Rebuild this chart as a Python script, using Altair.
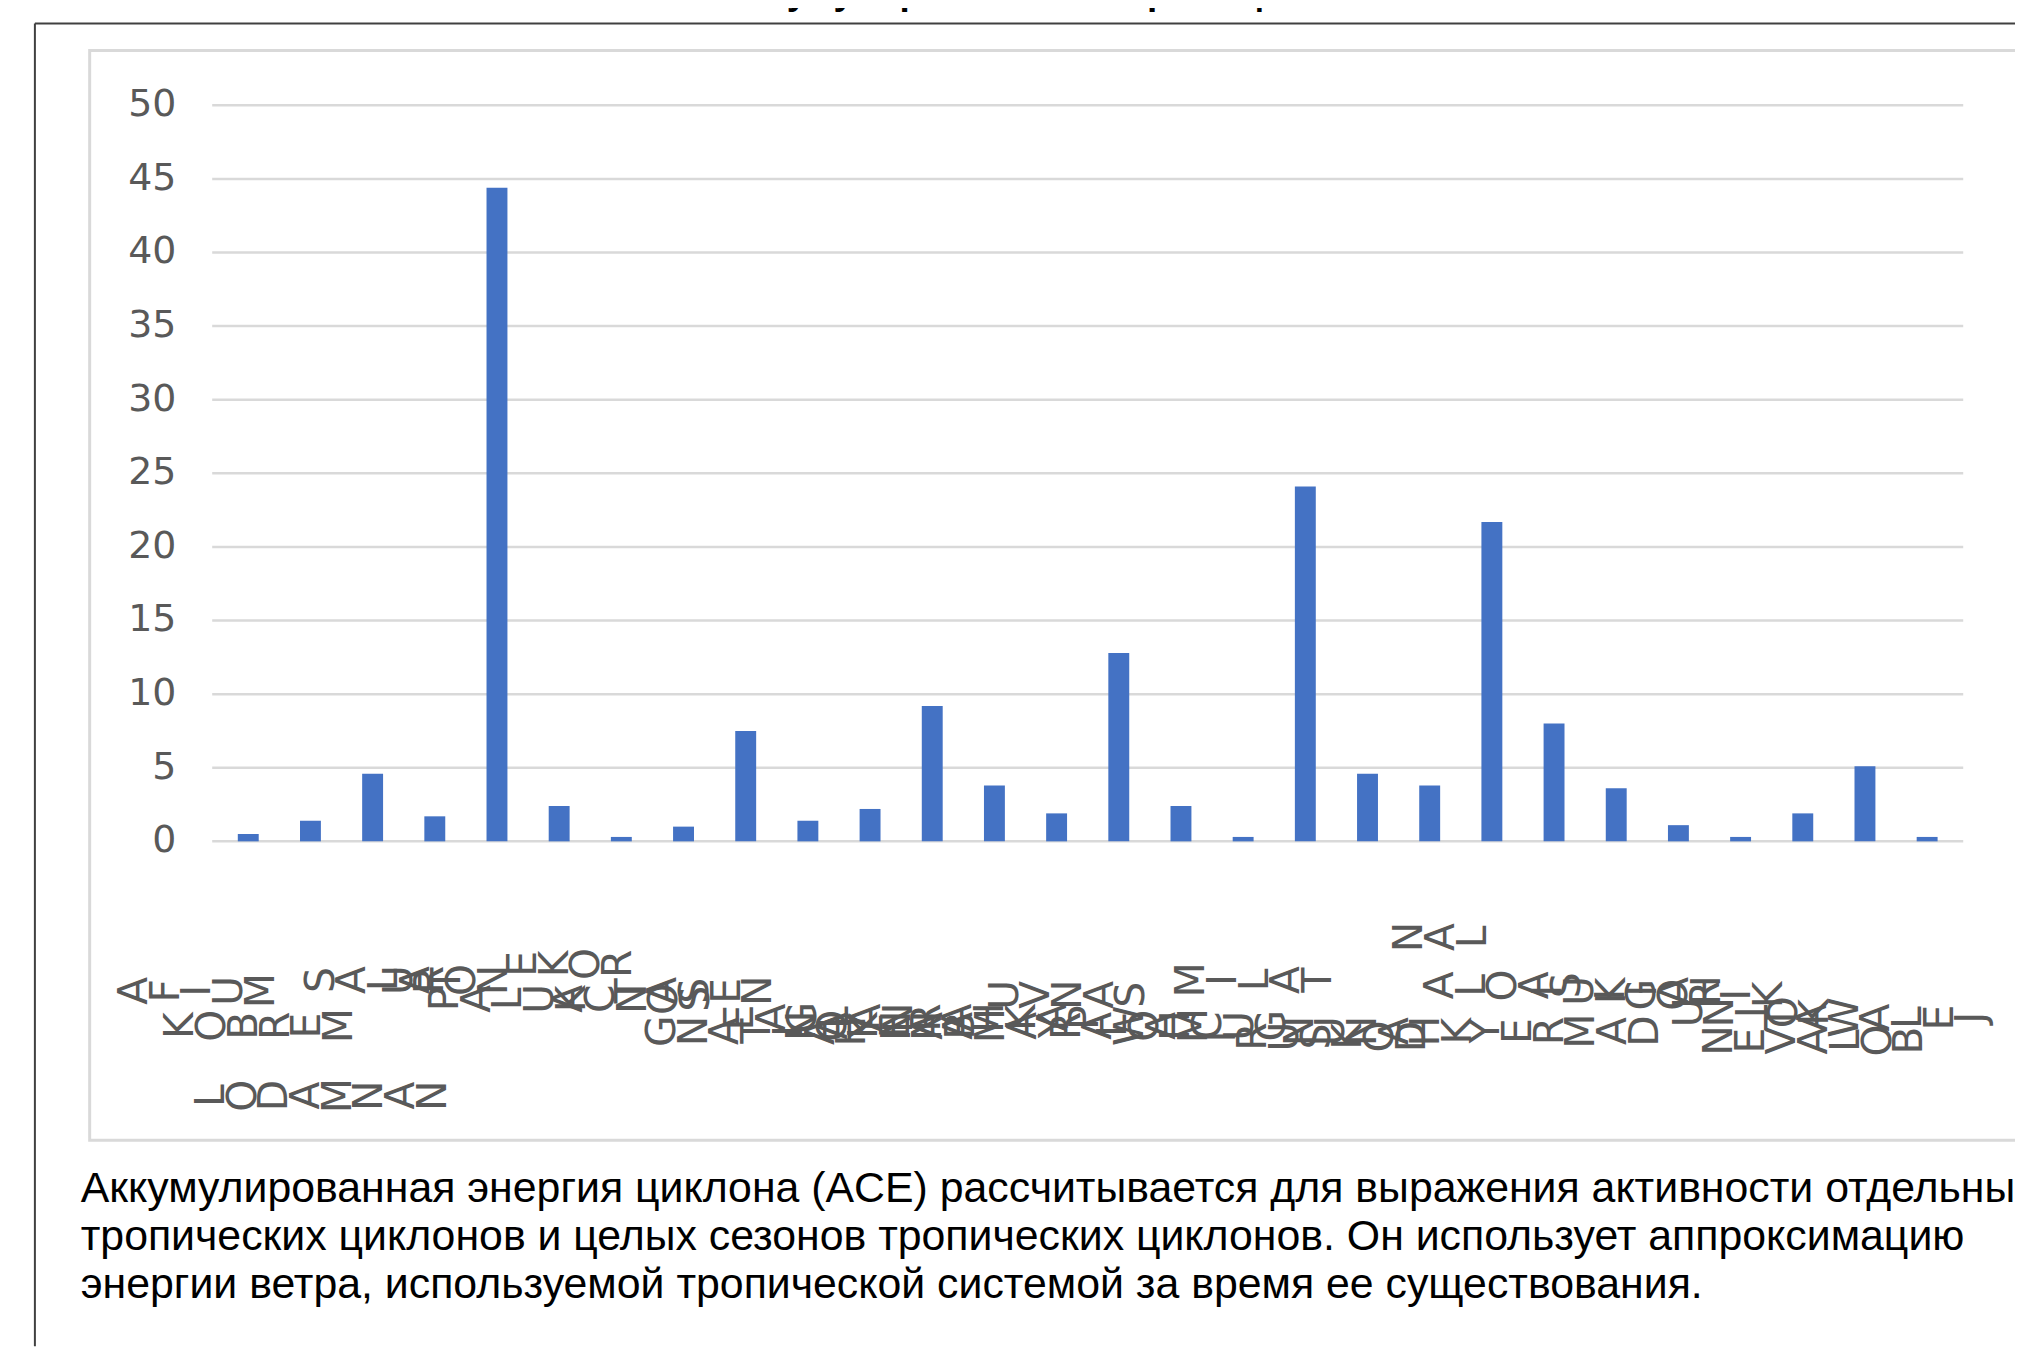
import altair as alt
import pandas as pd

# ---------------- data ----------------
storm_names = [
    "MUIFA", "MERBOK", "NANMADOL", "TALAS", "NORU", "KULAP", "ROKE",
    "SONCA", "NESAT", "HAITANG", "NALGAE", "BANYAN", "YAMANEKO", "PAKHAR",
    "SANVU", "MAWAR", "GUCHOL", "TALIM", "DOKSURI", "KHANUN", "LAN",
    "SAOLA", "DAMREY", "HAIKUI", "KIROGI", "KOINU", "BOLAVEN", "JELAWAT",
]
ace_values = [
    0.5, 1.4, 4.6, 1.7, 44.4, 2.4, 0.3, 1.0, 7.5, 1.4, 2.2, 9.2, 3.8, 1.9,
    12.8, 2.4, 0.3, 24.1, 4.6, 3.8, 21.7, 8.0, 3.6, 1.1, 0.3, 1.9, 5.1, 0.3,
]
y_ticks = [0, 5, 10, 15, 20, 25, 30, 35, 40, 45, 50]
title_text = "Аккумулированная энергия циклонов"
caption_lines = [
    "Аккумулированная энергия циклона (ACE) рассчитывается для выражения активности отдельных",
    "тропических циклонов и целых сезонов тропических циклонов. Он использует аппроксимацию",
    "энергии ветра, используемой тропической системой за время ее существования.",
]

# ---------------- layout (label stagger depth, in label lines) ----------------
label_depth = [2, 3.3, 5.9, 1.6, 1.6, 2.3, 1, 2.3, 2, 3.5, 3, 3.3, 3.3, 3,
               2.15, 3.3, 3.3, 1.6, 3.7, 3.5, 0, 1.8, 3.5, 2, 2.15, 2.8, 3.85, 3]

W, H = 2015, 1341
GRID = "#d9d9d9"
TXT = "#595959"

bars_df = pd.DataFrame({"i": list(range(len(ace_values))), "ace": ace_values, "name": storm_names})
ticks_df = pd.DataFrame({"v": y_ticks, "lab": [str(t) for t in y_ticks]})

rows = []
for i, nm in enumerate(storm_names):
    rev = nm[::-1]
    n = len(rev)
    for j, ch in enumerate(rev):
        rows.append({"i": i, "k": j - (n - 1) / 2, "ch": ch, "depth": label_depth[i]})
chars_df = pd.DataFrame(rows)
cap_df = pd.DataFrame({"line": list(range(len(caption_lines))), "txt": caption_lines})
one = pd.DataFrame({"z": [0]})

xscale = alt.Scale(domain=[-0.5, len(ace_values) - 0.5], range=[205, 1963], nice=False, zero=False)
yscale = alt.Scale(domain=[0, 50], range=[834, 95], nice=False, zero=False)

outer_left = alt.Chart(one).mark_rule(color="#404040", strokeWidth=2).encode(
    x=alt.value(27), y=alt.value(13), y2=alt.value(H))
outer_top = alt.Chart(one).mark_rule(color="#404040", strokeWidth=2).encode(
    x=alt.value(27), x2=alt.value(W), y=alt.value(13))
inner_box = alt.Chart(one).mark_rect(filled=False, stroke=GRID, strokeWidth=3).encode(
    x=alt.value(82), x2=alt.value(W + 20), y=alt.value(40), y2=alt.value(1134))

title = alt.Chart(one).mark_text(
    text=title_text, font="Liberation Sans", fontSize=37, fontWeight="bold",
    align="center", baseline="alphabetic", color="#000000").encode(
    x=alt.value(1066), y=alt.value(-7))

grid = alt.Chart(ticks_df).mark_rule(color=GRID, strokeWidth=2.5).encode(
    y=alt.Y("v:Q", scale=yscale, axis=None), x=alt.value(205), x2=alt.value(1963))
ylabels = alt.Chart(ticks_df).mark_text(
    align="right", baseline="middle", font="DejaVu Sans", fontSize=38, color=TXT).encode(
    y=alt.Y("v:Q", scale=yscale, axis=None), x=alt.value(169), text="lab:N")

bars = alt.Chart(bars_df).mark_bar(width=21, color="#4472C4").encode(
    x=alt.X("i:Q", scale=xscale, axis=None),
    y=alt.Y("ace:Q", scale=yscale, axis=None),
    tooltip=["name:N", "ace:Q"])

glyphs = alt.Chart(chars_df).transform_calculate(
    xp="datum.i - 0.8 + datum.k * 0.51").mark_text(
    angle=270, font="DejaVu Sans", fontSize=41, color=TXT,
    align="center", baseline="middle").encode(
    x=alt.X("xp:Q", scale=xscale, axis=None),
    y=alt.Y("depth:Q", scale=alt.Scale(domain=[0, 6], range=[930, 1092], nice=False, zero=False), axis=None),
    text="ch:N")

caption = alt.Chart(cap_df).mark_text(
    align="left", baseline="alphabetic", font="Liberation Sans", fontSize=43, color="#000000").encode(
    x=alt.value(73),
    y=alt.Y("line:Q", scale=alt.Scale(domain=[0, 2], range=[1196, 1292], nice=False, zero=False), axis=None),
    text="txt:N")

chart = alt.layer(
    inner_box, outer_left, outer_top, title, grid, ylabels, bars, glyphs, caption
).resolve_scale(y="independent").properties(
    width=W, height=H, autosize=alt.AutoSizeParams(type="none"), padding=0,
    background="white",
).configure_view(strokeWidth=0)

chart.save("out.html", embed_options={"renderer": "svg", "actions": False})
